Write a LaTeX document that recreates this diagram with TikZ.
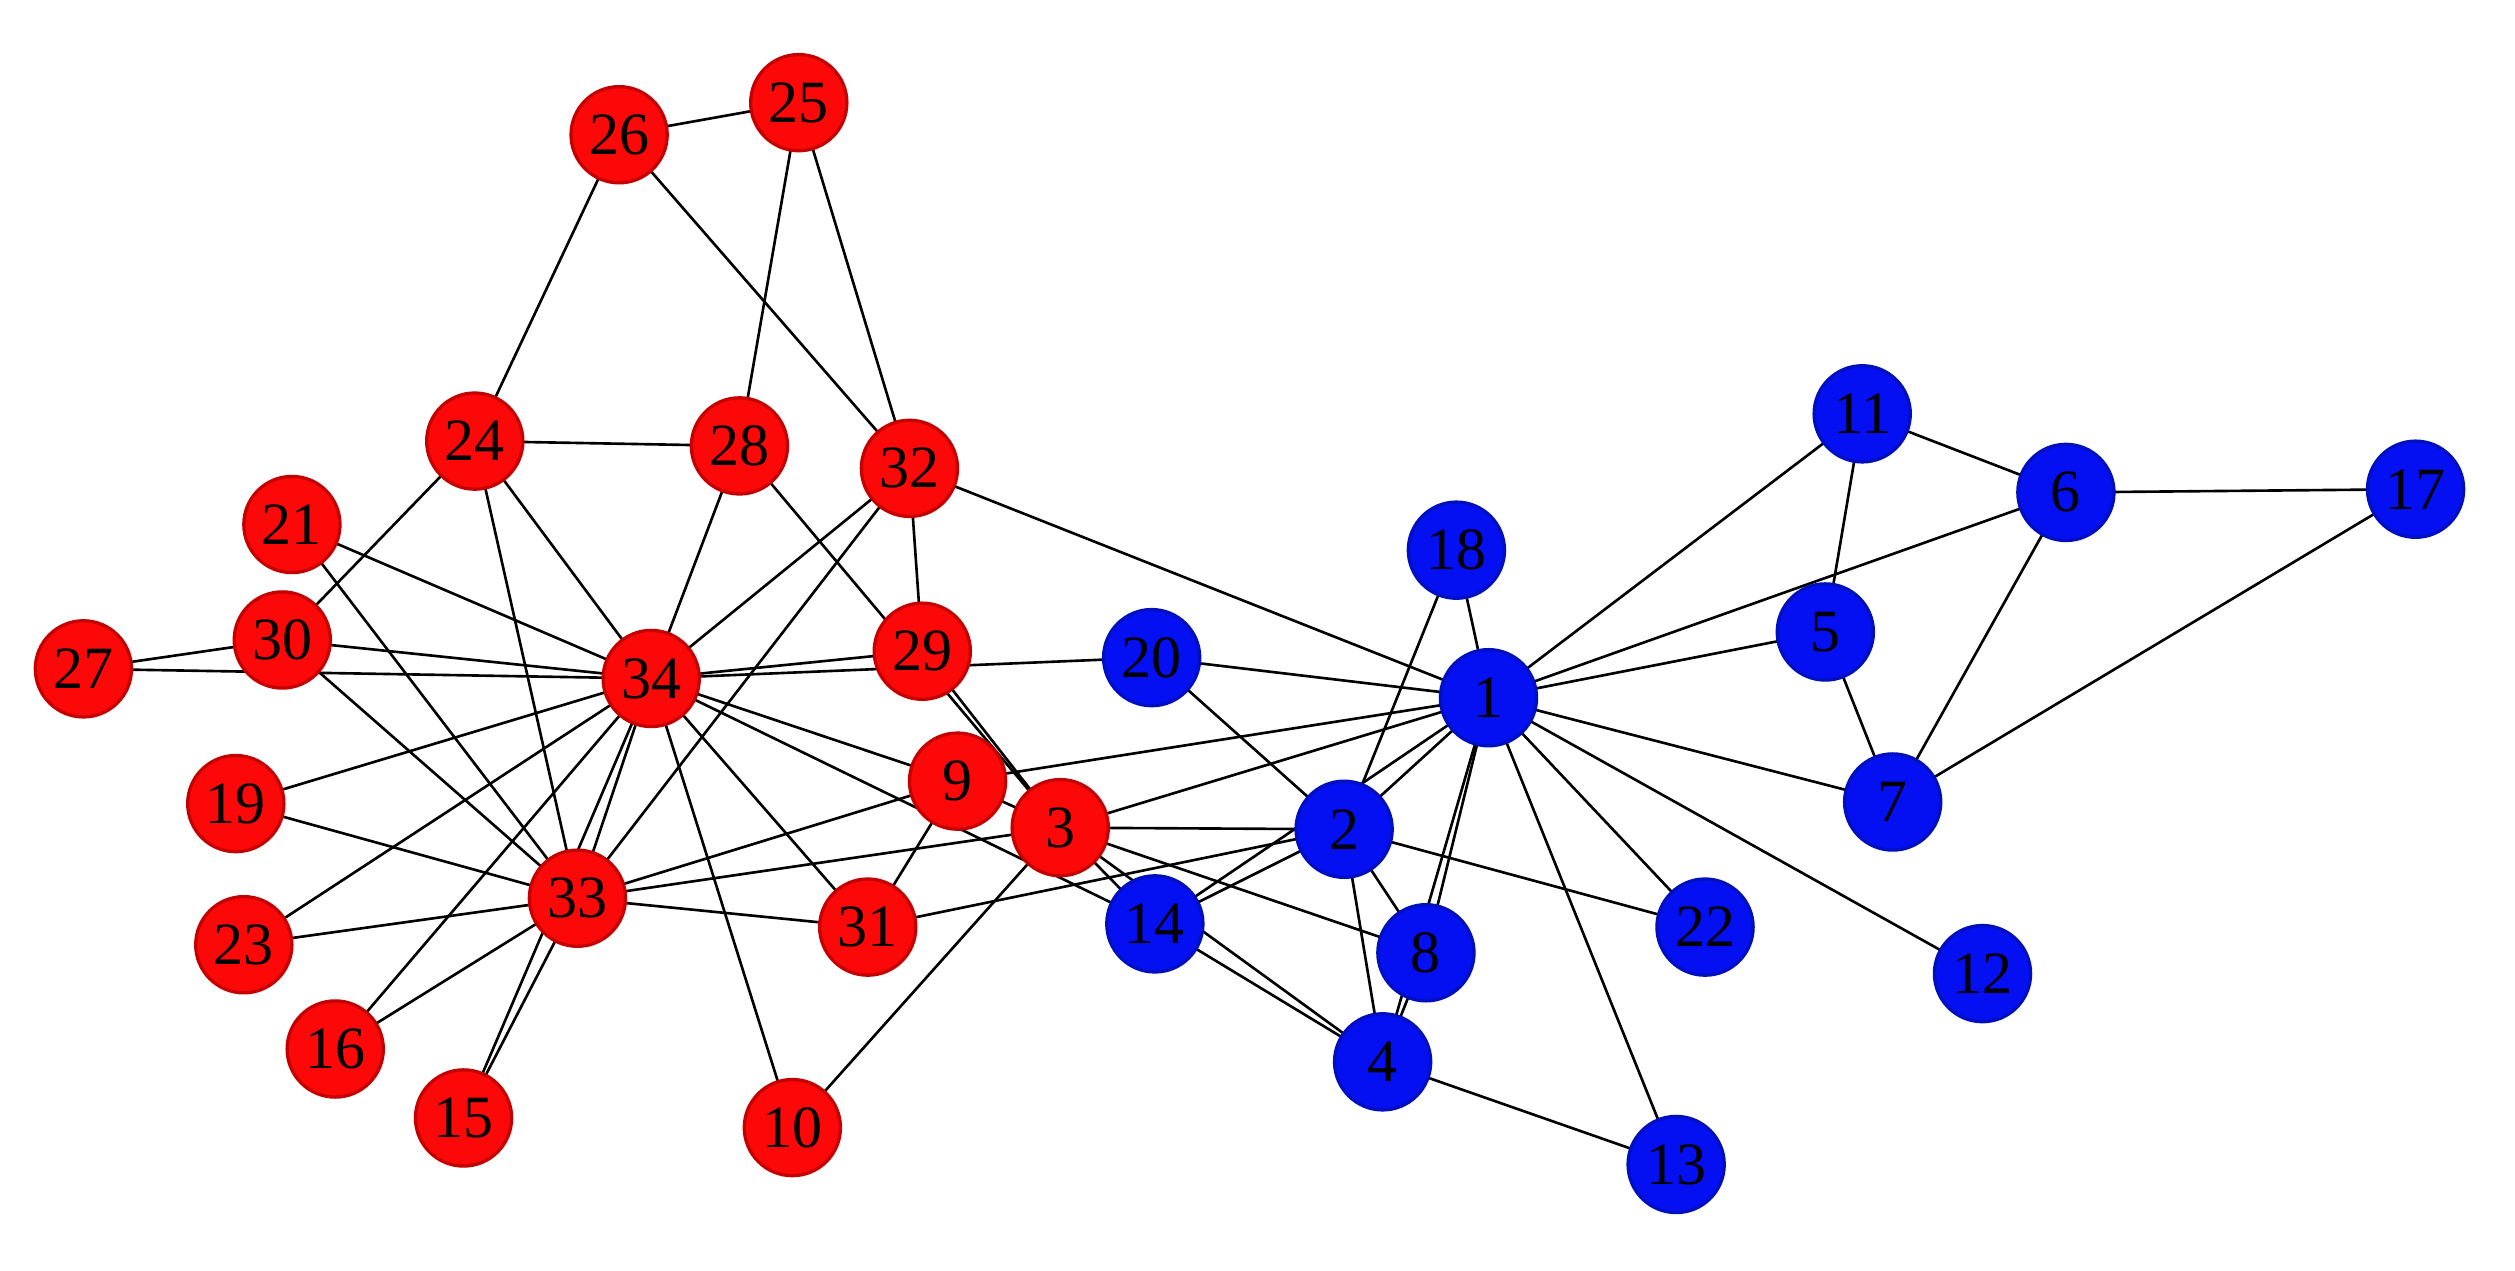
\documentclass[tikz,border=0pt]{standalone}
\usepackage{fontspec}
\setmainfont{Liberation Serif}
\usetikzlibrary{backgrounds}
\definecolor{rfill}{RGB}{252,8,8}
\definecolor{rdraw}{RGB}{196,0,0}
\definecolor{bfill}{RGB}{4,16,242}
\definecolor{bdraw}{RGB}{0,16,190}
\tikzset{
  rnode/.style={circle,fill=rfill,draw=rdraw,line width=1.3pt,minimum size=38.5pt,inner sep=0pt,font=\fontsize{24}{24}\selectfont},
  bnode/.style={circle,fill=bfill,draw=bdraw,line width=1.3pt,minimum size=38.5pt,inner sep=0pt,font=\fontsize{24}{24}\selectfont},
  edge/.style={draw=black,line width=1.05pt}
}
\begin{document}
\begin{tikzpicture}[x=0.6416pt,y=-0.6416pt]
\useasboundingbox (0,0) rectangle (1568,792);
\node[bnode] (n1) at (928,435) {1};
\node[bnode] (n2) at (838,517) {2};
\node[rnode] (n3) at (661,516) {3};
\node[bnode] (n4) at (862,662) {4};
\node[bnode] (n5) at (1138,394) {5};
\node[bnode] (n6) at (1288,307) {6};
\node[bnode] (n7) at (1180,500) {7};
\node[bnode] (n8) at (889,594) {8};
\node[rnode] (n9) at (597,487) {9};
\node[rnode] (n10) at (494,703) {10};
\node[bnode] (n11) at (1161,258) {11};
\node[bnode] (n12) at (1236,607) {12};
\node[bnode] (n13) at (1045,726) {13};
\node[bnode] (n14) at (720,576) {14};
\node[rnode] (n15) at (289,697) {15};
\node[rnode] (n16) at (209,654) {16};
\node[bnode] (n17) at (1506,305) {17};
\node[bnode] (n18) at (908,343) {18};
\node[rnode] (n19) at (147,501) {19};
\node[bnode] (n20) at (718,410) {20};
\node[rnode] (n21) at (182,327) {21};
\node[bnode] (n22) at (1063,578) {22};
\node[rnode] (n23) at (152,589) {23};
\node[rnode] (n24) at (296,275) {24};
\node[rnode] (n25) at (498,64) {25};
\node[rnode] (n26) at (386,84) {26};
\node[rnode] (n27) at (52,417) {27};
\node[rnode] (n28) at (461,278) {28};
\node[rnode] (n29) at (575,406) {29};
\node[rnode] (n30) at (176,399) {30};
\node[rnode] (n31) at (541,578) {31};
\node[rnode] (n32) at (567,292) {32};
\node[rnode] (n33) at (360,560) {33};
\node[rnode] (n34) at (406,423) {34};
\begin{scope}[on background layer]
\foreach \a/\b in {1/2,1/3,1/4,1/5,1/6,1/7,1/8,1/9,1/11,1/12,1/13,1/14,1/18,1/20,1/22,1/32,
2/3,2/4,2/8,2/14,2/18,2/20,2/22,2/31,
3/4,3/8,3/9,3/10,3/14,3/28,3/29,3/33,
4/8,4/13,4/14,5/7,5/11,6/7,6/11,6/17,7/17,
9/31,9/33,9/34,10/34,14/34,15/33,15/34,16/33,16/34,19/33,19/34,20/34,
21/33,21/34,23/33,23/34,24/26,24/28,24/30,24/33,24/34,
25/26,25/28,25/32,26/32,27/30,27/34,28/34,29/32,29/34,30/33,30/34,
31/33,31/34,32/33,32/34,33/34}
  \draw[edge] (n\a.center) -- (n\b.center);
\end{scope}
\end{tikzpicture}
\end{document}
